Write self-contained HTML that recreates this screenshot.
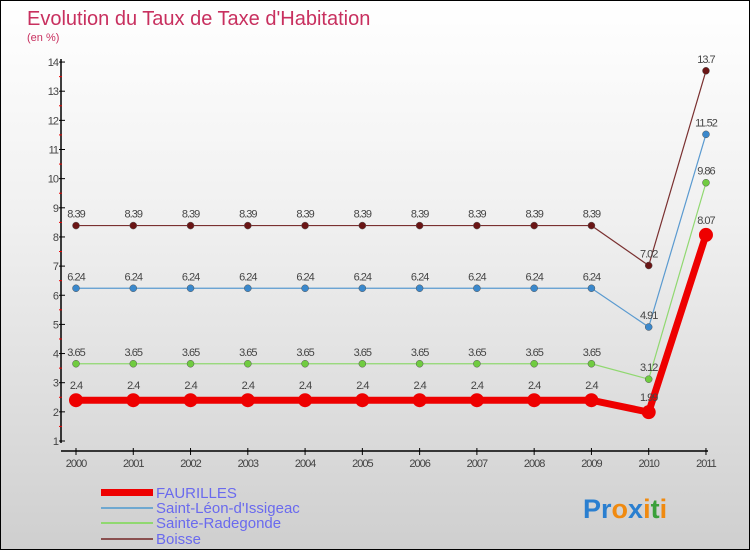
<!DOCTYPE html>
<html><head><meta charset="utf-8"><style>
body{margin:0}
#c{width:750px;height:550px;position:relative;overflow:hidden;box-sizing:border-box;border:1px solid #000;background:linear-gradient(#ffffff,#f0f0f0 40%,#cfcfcf);font-family:"Liberation Sans",sans-serif}
</style></head><body>
<div id="c">
<svg id="s" width="750" height="550" style="position:absolute;left:0;top:0">
<text x="26" y="24" font-size="20" fill="#c8305f">Evolution du Taux de Taxe d'Habitation</text>
<text x="26" y="40" font-size="11" fill="#c8305f">(en %)</text>
<g id="axes"></g><g id="series"></g>
<g>
<rect x="100" y="488" width="52" height="7" fill="#ee0000"/>
<text x="155" y="497" font-size="15" fill="#6a6aee">FAURILLES</text>
<rect x="100" y="506" width="52" height="2" fill="#6fa8d0"/>
<text x="155" y="512" font-size="15" fill="#6a6aee">Saint-Léon-d'Issigeac</text>
<rect x="100" y="521" width="52" height="2" fill="#90d870"/>
<text x="155" y="527" font-size="15" fill="#6a6aee">Sainte-Radegonde</text>
<rect x="100" y="537" width="52" height="2" fill="#8a5050"/>
<text x="155" y="543" font-size="15" fill="#6a6aee">Boisse</text>
</g>
<text x="582" y="517" font-size="27" font-weight="bold"><tspan fill="#2a7fd0">Pr</tspan><tspan fill="#f08a10">o</tspan><tspan fill="#2a7fd0">x</tspan><tspan fill="#f08a10">i</tspan><tspan fill="#3aa03a">t</tspan><tspan fill="#f08a10">i</tspan></text>
</svg>
</div>
<script>
const years=["2000","2001","2002","2003","2004","2005","2006","2007","2008","2009","2010","2011"];
const faurilles=[2.4,2.4,2.4,2.4,2.4,2.4,2.4,2.4,2.4,2.4,1.99,8.07];
const saintLeon=[6.24,6.24,6.24,6.24,6.24,6.24,6.24,6.24,6.24,6.24,4.91,11.52];
const sainteRadegonde=[3.65,3.65,3.65,3.65,3.65,3.65,3.65,3.65,3.65,3.65,3.12,9.86];
const boisse=[8.39,8.39,8.39,8.39,8.39,8.39,8.39,8.39,8.39,8.39,7.02,13.7];
const yTicks=[1,2,3,4,5,6,7,8,9,10,11,12,13,14];
const NS="http://www.w3.org/2000/svg";
const xs=i=>75+i*57.27;
const ys=v=>440-(v-1)*29.15;
function mk(t,a,p){const e=document.createElementNS(NS,t);for(const k in a)e.setAttribute(k,a[k]);p.appendChild(e);return e;}
const ax=document.getElementById('axes');
let e=mk('line',{x1:60,y1:58,x2:60,y2:442,stroke:'#000','stroke-width':1.5},ax);


e=mk('line',{x1:60,y1:450,x2:707,y2:450,stroke:'#000','stroke-width':1.5},ax);


yTicks.forEach(v=>{
 mk('line',{x1:58,y1:ys(v),x2:64,y2:ys(v),stroke:'#000'},ax);
 if(v<14) mk('line',{x1:58,y1:ys(v+0.5),x2:61,y2:ys(v+0.5),stroke:'#e00'},ax);
 const t=mk('text',{x:57,y:ys(v)+4,'font-size':11,fill:'#444','text-anchor':'end','letter-spacing':'-1'},ax);
 t.textContent=v;
 
 
});
years.forEach((y,i)=>{
 mk('line',{x1:xs(i),y1:447,x2:xs(i),y2:454,stroke:'#000'},ax);
 const t=mk('text',{x:xs(i),y:466,'font-size':11,fill:'#444','text-anchor':'middle','letter-spacing':'-1'},ax);
 t.textContent=y;
 
 
});
const sg=document.getElementById('series');
function draw(vals,color,dot,w,r,name){
 const g=mk('g',{},sg);
 
 
 mk('polyline',{points:vals.map((v,i)=>xs(i)+','+ys(v)).join(' '),fill:'none',stroke:color,'stroke-width':w},g);
 vals.forEach((v,i)=>{
  const c=mk('circle',{cx:xs(i),cy:ys(v),r:r,fill:dot,stroke:w>3?'none':'#555','stroke-width':0.5},g);
  
  
  const t=mk('text',{x:xs(i),y:ys(v)-(w>3?11:8),'font-size':11,fill:'#444','text-anchor':'middle','letter-spacing':'-1'},g);
  t.textContent=v;
  
  
 });
}
draw(boisse,'#7a3030','#6a1515',1.2,3.5,'boisse');
draw(saintLeon,'#5a9ad0','#3a88cc',1.2,3.5,'saint-leon');
draw(sainteRadegonde,'#90d870','#70cc40',1.2,3.5,'sainte-radegonde');
draw(faurilles,'#ee0000','#ee0000',7,7,'faurilles');
</script>
</body></html>
